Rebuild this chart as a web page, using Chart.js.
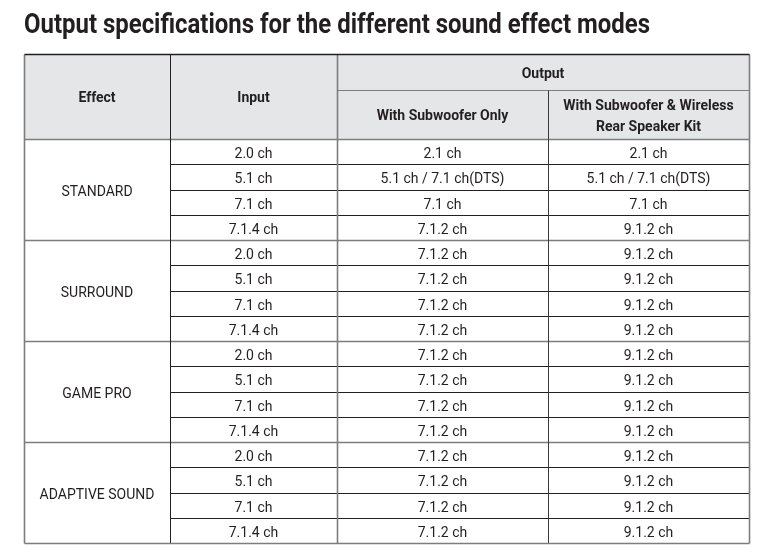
<!DOCTYPE html>
<html>
<head>
<meta charset="utf-8">
<script src="https://cdn.jsdelivr.net/npm/chart.js@4"></script>
<style>
    html, body { margin: 0; padding: 0; background: #ffffff; }
    canvas { display: block; }
</style>
</head>
<body>
<canvas id="spec-table" width="764" height="555"></canvas>
<script>
// Table content
const titleText = 'Output specifications for the different sound effect modes';
const headerEffect = 'Effect';
const headerInput = 'Input';
const headerOutput = 'Output';
const outputHeaders = [['With Subwoofer Only'], ['With Subwoofer & Wireless', 'Rear Speaker Kit']];

const effects = ['STANDARD', 'SURROUND', 'GAME PRO', 'ADAPTIVE SOUND'];
const inputs = ['2.0 ch', '5.1 ch', '7.1 ch', '7.1.4 ch'];

// one row of 4 values per effect, in the order of inputs
const subwooferOnly = [
    ['2.1 ch', '5.1 ch / 7.1 ch(DTS)', '7.1 ch', '7.1.2 ch'],
    ['7.1.2 ch', '7.1.2 ch', '7.1.2 ch', '7.1.2 ch'],
    ['7.1.2 ch', '7.1.2 ch', '7.1.2 ch', '7.1.2 ch'],
    ['7.1.2 ch', '7.1.2 ch', '7.1.2 ch', '7.1.2 ch']
];
const withRearKit = [
    ['2.1 ch', '5.1 ch / 7.1 ch(DTS)', '7.1 ch', '9.1.2 ch'],
    ['9.1.2 ch', '9.1.2 ch', '9.1.2 ch', '9.1.2 ch'],
    ['9.1.2 ch', '9.1.2 ch', '9.1.2 ch', '9.1.2 ch'],
    ['9.1.2 ch', '9.1.2 ch', '9.1.2 ch', '9.1.2 ch']
];

// Layout (scale units): column widths on x, header height in body rows on y
const colWidths = [146, 167, 211, 201];
const headerRows = 3.37;
const headerSplit = 1.94;

const INK = '#231f20';
const GREY_LINE = '#7d7d7d';
const HEADER_BG = '#e5e6e8';
const FONT = 'Roboto, "Noto Sans", sans-serif';

const colEdges = colWidths.reduce((acc, w) => { acc.push(acc[acc.length - 1] + w); return acc; }, [0]);
const bodyRows = effects.length * inputs.length;

const tablePlugin = {
    id: 'specTable',
    afterDraw(chart) {
        const { ctx, scales: { x, y } } = chart;
        const X = v => x.getPixelForValue(v);
        const Y = v => y.getPixelForValue(v);
        const crisp = p => Math.round(p) + 0.5;

        ctx.save();

        // title, condensed to the reference width
        ctx.font = `bold 27px ${FONT}`;
        ctx.fillStyle = INK;
        ctx.textBaseline = 'alphabetic';
        ctx.textAlign = 'left';
        const tw = ctx.measureText(titleText).width;
        const sx = Math.min(1, 626 / tw);
        ctx.save();
        ctx.translate(X(0), 33);
        ctx.scale(sx, 1);
        ctx.fillText(titleText, 0, 0);
        ctx.restore();

        // header background
        ctx.fillStyle = HEADER_BG;
        ctx.fillRect(X(0), Y(-headerRows), X(colEdges[4]) - X(0), Y(0) - Y(-headerRows));

        const text = (str, cx, cy, bold) => {
            ctx.font = `${bold ? 'bold ' : ''}14px ${FONT}`;
            ctx.fillStyle = INK;
            ctx.textAlign = 'center';
            ctx.textBaseline = 'middle';
            ctx.fillText(str, cx, cy);
        };
        const midX = c => (X(colEdges[c]) + X(colEdges[c + 1])) / 2;

        // header texts
        text(headerEffect, midX(0), (Y(-headerRows) + Y(0)) / 2 + 2, true);
        text(headerInput, midX(1), (Y(-headerRows) + Y(0)) / 2 + 2, true);
        text(headerOutput, (X(colEdges[2]) + X(colEdges[4])) / 2, (Y(-headerRows) + Y(-headerSplit)) / 2 + 2, true);
        outputHeaders.forEach((lines, i) => {
            const cy = (Y(-headerSplit) + Y(0)) / 2 + 2;
            lines.forEach((ln, k) => {
                text(ln, midX(2 + i), cy + (k - (lines.length - 1) / 2) * 21, true);
            });
        });

        // body texts
        effects.forEach((eff, g) => {
            const top = g * inputs.length;
            text(eff, midX(0), (Y(top) + Y(top + inputs.length)) / 2 + 3, false);
            inputs.forEach((inp, r) => {
                const cy = (Y(top + r) + Y(top + r + 1)) / 2 + 3;
                text(inp, midX(1), cy, false);
                text(subwooferOnly[g][r], midX(2), cy, false);
                text(withRearKit[g][r], midX(3), cy, false);
            });
        });

        const line = (x1, y1, x2, y2, color, width) => {
            ctx.beginPath();
            ctx.strokeStyle = color;
            ctx.lineWidth = width;
            ctx.moveTo(x1, y1);
            ctx.lineTo(x2, y2);
            ctx.stroke();
        };

        const left = crisp(X(0));
        const right = crisp(X(colEdges[4]));
        const top = crisp(Y(-headerRows));
        const bottom = crisp(Y(bodyRows));

        // row lines inside each effect group
        effects.forEach((eff, g) => {
            for (let r = 1; r < inputs.length; r++) {
                const yy = crisp(Y(g * inputs.length + r));
                line(crisp(X(colEdges[1])), yy, right, yy, INK, 1);
            }
        });
        // group separators and header bottom
        for (let g = 0; g < effects.length; g++) {
            const yy = crisp(Y(g * inputs.length));
            line(left, yy, right, yy, GREY_LINE, 1.6);
        }
        // output header split
        line(crisp(X(colEdges[2])), crisp(Y(-headerSplit)), right, crisp(Y(-headerSplit)), GREY_LINE, 1.2);

        // vertical column lines
        line(crisp(X(colEdges[1])), top, crisp(X(colEdges[1])), bottom, INK, 1);
        line(crisp(X(colEdges[2])), top, crisp(X(colEdges[2])), bottom, GREY_LINE, 1.6);
        line(crisp(X(colEdges[3])), crisp(Y(-headerSplit)), crisp(X(colEdges[3])), bottom, '#3a3a3a', 1);

        // outer frame
        line(left, top, left, bottom, GREY_LINE, 1.6);
        line(right, top, right, bottom, GREY_LINE, 1.6);
        line(left, bottom, right, bottom, GREY_LINE, 1.6);
        line(left, top, right, top, INK, 1.6);

        ctx.restore();
    }
};

new Chart(document.getElementById('spec-table'), {
    type: 'scatter',
    data: { datasets: [] },
    options: {
        responsive: false,
        animation: false,
        events: [],
        layout: { padding: { left: 24, right: 15, top: 54, bottom: 12 } },
        plugins: {
            legend: { display: false },
            tooltip: { enabled: false },
            title: { display: false }
        },
        scales: {
            x: { type: 'linear', display: false, min: 0, max: colEdges[4] },
            y: { type: 'linear', display: false, reverse: true, min: -headerRows, max: bodyRows }
        }
    },
    plugins: [tablePlugin]
});
</script>
</body>
</html>
